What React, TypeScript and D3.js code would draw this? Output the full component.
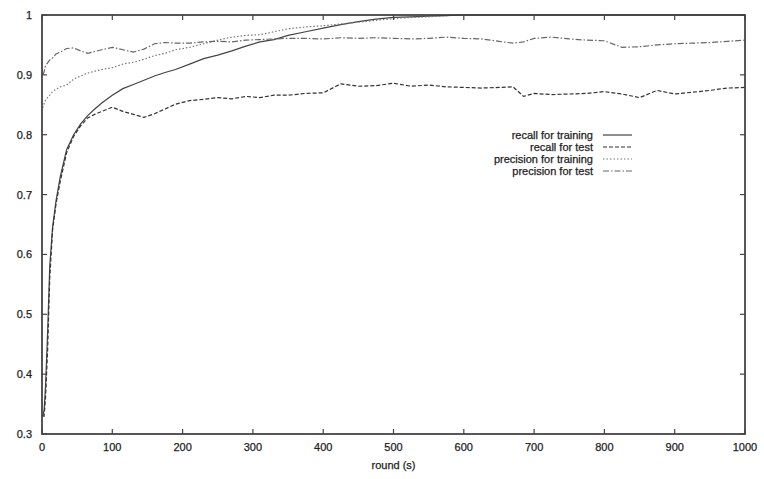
import React from 'react';
import * as d3 from 'd3';

// rounds at which the curves were sampled
const rounds = [
  1, 3, 5, 8, 11, 15, 20, 26, 35, 45, 55, 65, 75, 85, 100, 115, 130, 145, 160, 175,
  190, 210, 230, 250, 270, 290, 310, 330, 350, 375, 400, 425, 450, 475, 500, 525, 550,
  575, 600, 625, 650, 670, 685, 700, 725, 750, 775, 800, 825, 850, 875, 900, 925, 950,
  975, 1000,
];

const recallTraining = [
  0.33, 0.34, 0.38, 0.47, 0.58, 0.645, 0.69, 0.73, 0.775, 0.8, 0.818, 0.832, 0.843, 0.853,
  0.866, 0.877, 0.884, 0.891, 0.898, 0.904, 0.909, 0.918, 0.927, 0.933, 0.94, 0.948, 0.955,
  0.959, 0.966, 0.972, 0.978, 0.984, 0.989, 0.993, 0.996, 0.997, 0.998, 0.999, 1, 1, 1, 1,
  1, 1, 1, 1, 1, 1, 1, 1, 1, 1, 1, 1, 1, 1,
];

const recallTest = [
  0.33, 0.33, 0.36, 0.44, 0.56, 0.64, 0.685, 0.722, 0.77, 0.797, 0.815, 0.828, 0.834, 0.839,
  0.846, 0.839, 0.834, 0.829, 0.835, 0.843, 0.851, 0.857, 0.859, 0.862, 0.86, 0.864, 0.862,
  0.866, 0.866, 0.869, 0.87, 0.885, 0.881, 0.882, 0.886, 0.881, 0.883, 0.88, 0.879, 0.878,
  0.879, 0.88, 0.864, 0.869, 0.867, 0.868, 0.869, 0.872, 0.868, 0.862, 0.874, 0.868, 0.871,
  0.874, 0.878, 0.879,
];

const precisionTraining = [
  0.845, 0.852, 0.858, 0.862, 0.866, 0.872, 0.876, 0.88, 0.883, 0.893, 0.898, 0.903, 0.906,
  0.909, 0.912, 0.918, 0.921, 0.926, 0.932, 0.936, 0.942, 0.946, 0.952, 0.958, 0.963, 0.966,
  0.967, 0.972, 0.977, 0.98, 0.982, 0.985, 0.988, 0.991, 0.994, 0.996, 0.997, 0.999, 1, 1,
  1, 1, 1, 1, 1, 1, 1, 1, 1, 1, 1, 1, 1, 1, 1, 1,
];

const precisionTest = [
  0.9, 0.905, 0.915, 0.92, 0.925, 0.928, 0.935, 0.938, 0.944, 0.945, 0.94, 0.936, 0.939,
  0.942, 0.946, 0.942, 0.938, 0.943, 0.952, 0.954, 0.953, 0.953, 0.955, 0.956, 0.955, 0.958,
  0.959, 0.96, 0.961, 0.961, 0.96, 0.962, 0.961, 0.962, 0.961, 0.96, 0.961, 0.963, 0.961,
  0.96, 0.956, 0.953, 0.955, 0.961, 0.963, 0.96, 0.958, 0.957, 0.946, 0.947, 0.95, 0.952,
  0.953, 0.954, 0.956, 0.958,
];

const legendLabels = ['recall for training', 'recall for test', 'precision for training', 'precision for test'];
const xTicks = [0, 100, 200, 300, 400, 500, 600, 700, 800, 900, 1000];
const yTicks = [0.3, 0.4, 0.5, 0.6, 0.7, 0.8, 0.9, 1];

const series = [
  { values: recallTraining, color: '#444', dash: 'none' },
  { values: recallTest, color: '#333', dash: '4,2' },
  { values: precisionTraining, color: '#777', dash: '1.5,2' },
  { values: precisionTest, color: '#666', dash: '6,2,1.5,2' },
];

const W = 764;
const H = 479;
const left = 42, right = 745, top = 15, bottom = 434;
const font = '"Liberation Sans", Arial, sans-serif';

export default function App() {
  const x = d3.scaleLinear().domain([0, 1000]).range([left, right]);
  const y = d3.scaleLinear().domain([0.3, 1]).range([bottom, top]);
  const line = d3.line<number>()
    .x((_, i) => x(rounds[i]))
    .y(d => y(d));

  const tick = 5;
  const txt = { fontSize: 11, fill: '#222', stroke: '#222', strokeWidth: 0.25 };
  return (
    <svg width={W} height={H} style={{ position: 'absolute', left: 0, top: 0, background: '#fff' }}
      fontFamily={font}>
      <rect width={W} height={H} fill="#fff" />
      {series.map((s, i) => (
        <path key={i} d={line(s.values) || ''} fill="none" stroke={s.color}
          strokeWidth={1.2} strokeDasharray={s.dash} />
      ))}
      {/* frame and mirrored ticks */}
      <rect x={left} y={top} width={right - left} height={bottom - top} fill="none"
        stroke="#3a3a3a" strokeWidth={1.7} />
      {xTicks.map(t => (
        <g key={'x' + t}>
          <line x1={x(t)} x2={x(t)} y1={bottom} y2={bottom - tick} stroke="#444" strokeWidth={1.2} />
          <line x1={x(t)} x2={x(t)} y1={top} y2={top + tick} stroke="#444" strokeWidth={1.2} />
          <text x={x(t)} y={451} textAnchor="middle" {...txt}>{t}</text>
        </g>
      ))}
      {yTicks.map(t => (
        <g key={'y' + t}>
          <line x1={left} x2={left + tick} y1={y(t)} y2={y(t)} stroke="#444" strokeWidth={1.2} />
          <line x1={right} x2={right - tick} y1={y(t)} y2={y(t)} stroke="#444" strokeWidth={1.2} />
          <text x={32} y={y(t) + 4} textAnchor="end" {...txt}>{d3.format('.1~f')(t)}</text>
        </g>
      ))}
      <text x={(left + right) / 2} y={469} textAnchor="middle" {...txt}>round (s)</text>
      {legendLabels.map((lab, i) => {
        const ly = 135 + i * 12;
        return (
          <g key={lab}>
            <text x={593} y={ly + 4} textAnchor="end" {...txt}>{lab}</text>
            <line x1={603} x2={632} y1={ly} y2={ly} stroke={series[i].color} strokeWidth={1.2}
              strokeDasharray={series[i].dash} />
          </g>
        );
      })}
    </svg>
  );
}
